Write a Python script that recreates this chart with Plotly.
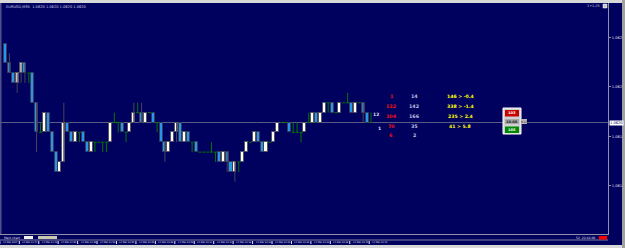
import plotly.graph_objects as go

# ---------------- data (renko-style bars, box = 1 pip) ----------------
opens = [1.06284, 1.06264, 1.06254, 1.06244, 1.06254, 1.06264, 1.06254, 1.06254, 1.06224, 1.06194,
         1.06194, 1.06214, 1.06194, 1.06174, 1.06154, 1.06164, 1.06204, 1.06194, 1.06184, 1.06194,
         1.06194, 1.06184, 1.06174, 1.06184, 1.06184, 1.06184, 1.06184, 1.06184, 1.06204, 1.06204,
         1.06204, 1.06194, 1.06194, 1.06204, 1.06214, 1.06214, 1.06204, 1.06214, 1.06214, 1.06204,
         1.06204, 1.06184, 1.06174, 1.06184, 1.06194, 1.06204, 1.06184, 1.06194, 1.06184, 1.06184,
         1.06174, 1.06174, 1.06174, 1.06174, 1.06174, 1.06174, 1.06164, 1.06174, 1.06164, 1.06154,
         1.06164, 1.06164, 1.06174, 1.06184, 1.06184, 1.06194, 1.06184, 1.06174, 1.06184, 1.06184,
         1.06194, 1.06204, 1.06204, 1.06204, 1.06194, 1.06194, 1.06194, 1.06194, 1.06204, 1.06204,
         1.06214, 1.06204, 1.06214, 1.06224, 1.06224, 1.06214, 1.06214, 1.06224, 1.06224, 1.06224,
         1.06214, 1.06224, 1.06224, 1.06214, 1.06204]
closes = [1.06264, 1.06254, 1.06244, 1.06254, 1.06264, 1.06254, 1.06254, 1.06224, 1.06194, 1.06194,
          1.06214, 1.06194, 1.06174, 1.06154, 1.06164, 1.06204, 1.06194, 1.06184, 1.06194, 1.06194,
          1.06184, 1.06174, 1.06184, 1.06184, 1.06184, 1.06184, 1.06184, 1.06204, 1.06204, 1.06204,
          1.06194, 1.06194, 1.06204, 1.06214, 1.06214, 1.06204, 1.06214, 1.06214, 1.06204, 1.06204,
          1.06184, 1.06174, 1.06184, 1.06194, 1.06204, 1.06184, 1.06194, 1.06184, 1.06184, 1.06174,
          1.06174, 1.06174, 1.06174, 1.06174, 1.06174, 1.06164, 1.06174, 1.06164, 1.06154, 1.06164,
          1.06164, 1.06174, 1.06184, 1.06184, 1.06194, 1.06184, 1.06174, 1.06184, 1.06184, 1.06194,
          1.06204, 1.06204, 1.06204, 1.06194, 1.06194, 1.06194, 1.06194, 1.06204, 1.06204, 1.06214,
          1.06204, 1.06214, 1.06224, 1.06224, 1.06214, 1.06214, 1.06224, 1.06224, 1.06224, 1.06214,
          1.06224, 1.06224, 1.06214, 1.06204, 1.06204]
highs = [1.06284, 1.06274, 1.06254, 1.06254, 1.06264, 1.06264, 1.06254, 1.06254, 1.06224, 1.06204,
         1.06214, 1.06214, 1.06194, 1.06174, 1.06164, 1.06224, 1.06204, 1.06194, 1.06194, 1.06194,
         1.06194, 1.06184, 1.06184, 1.06184, 1.06184, 1.06184, 1.06184, 1.06204, 1.06214, 1.06204,
         1.06204, 1.06194, 1.06204, 1.06224, 1.06224, 1.06224, 1.06214, 1.06214, 1.06214, 1.06204,
         1.06204, 1.06184, 1.06184, 1.06194, 1.06204, 1.06204, 1.06194, 1.06194, 1.06184, 1.06184,
         1.06174, 1.06174, 1.06174, 1.06184, 1.06174, 1.06174, 1.06174, 1.06174, 1.06164, 1.06164,
         1.06164, 1.06174, 1.06184, 1.06184, 1.06194, 1.06194, 1.06184, 1.06184, 1.06184, 1.06194,
         1.06204, 1.06204, 1.06204, 1.06204, 1.06204, 1.06204, 1.06194, 1.06204, 1.06214, 1.06214,
         1.06214, 1.06214, 1.06224, 1.06224, 1.06224, 1.06214, 1.06224, 1.06224, 1.06234, 1.06224,
         1.06224, 1.06224, 1.06224, 1.06214, 1.06214]
lows = [1.06264, 1.06254, 1.06244, 1.06234, 1.06244, 1.06244, 1.06244, 1.06224, 1.06174, 1.06194,
        1.06194, 1.06194, 1.06174, 1.06154, 1.06154, 1.06164, 1.06194, 1.06184, 1.06184, 1.06184,
        1.06184, 1.06174, 1.06174, 1.06174, 1.06184, 1.06174, 1.06174, 1.06184, 1.06204, 1.06194,
        1.06194, 1.06184, 1.06194, 1.06204, 1.06214, 1.06204, 1.06204, 1.06214, 1.06204, 1.06194,
        1.06184, 1.06164, 1.06174, 1.06184, 1.06184, 1.06184, 1.06184, 1.06184, 1.06174, 1.06174,
        1.06174, 1.06174, 1.06174, 1.06174, 1.06164, 1.06164, 1.06164, 1.06154, 1.06154, 1.06144,
        1.06154, 1.06164, 1.06174, 1.06184, 1.06184, 1.06184, 1.06174, 1.06174, 1.06184, 1.06184,
        1.06194, 1.06204, 1.06204, 1.06194, 1.06194, 1.06194, 1.06184, 1.06194, 1.06204, 1.06204,
        1.06204, 1.06204, 1.06214, 1.06214, 1.06214, 1.06214, 1.06214, 1.06224, 1.06224, 1.06214,
        1.06214, 1.06224, 1.06204, 1.06204, 1.06204]

current_price = 1.06204
price_ticks = [1.0629, 1.0624, 1.0619, 1.0614]
price_tick_labels = ["1.0629", "1.0624", "1.0619", "1.0614"]
price_box_label = "1.0620"

time_labels = ["14 Mar 2017", "14 Mar 21:44", "14 Mar 21:49", "14 Mar 21:50", "14 Mar 21:56",
               "14 Mar 21:59", "14 Mar 22:00", "14 Mar 22:05", "14 Mar 22:08", "14 Mar 22:09",
               "14 Mar 22:11", "14 Mar 22:14", "14 Mar 22:18", "14 Mar 22:21", "14 Mar 22:25",
               "14 Mar 22:29", "14 Mar 22:33", "14 Mar 22:36", "14 Mar 22:40", "14 Mar 22:43"]

stat_col1 = ["1", "132", "104", "70", "6"]
stat_col2 = ["14", "142", "166", "35", "2"]
stat_col3 = ["146 > -0.4", "338 > -1.4", "235 > 2.4", "41 > 5.8"]
bar_counter = ["12", "1"]
sell_price, lot_size, buy_price, spread_label = "103", "10.00", "105", "0.12"
title_text = "EURUSD,M30  1.0620 1.0620 1.0620 1.0620"

# ---------------- geometry ----------------
W, H = 625, 248
PL, PR, PT, PB = 0, 608, 3, 234          # plot area in pixels
BG = "#00005e"
idx = list(range(len(opens)))

def px(x):
    return (x - PL) / (PR - PL)

def py(y):
    return (PB - y) / (PB - PT)

fig = go.Figure()

# wicks (non-doji bars) and doji lines
wx, wy = [], []
dx, dy = [], []
half = 0.39
for i, o, c, h, l in zip(idx, opens, closes, highs, lows):
    if abs(o - c) > 1e-9:
        if h - l > abs(o - c) + 1e-9:
            wx += [i, i, None]
            wy += [l, h, None]
    else:
        if h - l > 1e-9:
            dx += [i, i, None]
            dy += [l, h, None]
        dx += [i - half, i + half, None]
        dy += [o, o, None]

fig.add_trace(go.Scatter(x=wx, y=wy, mode="lines", line=dict(color="#4a4458", width=1),
                         hoverinfo="skip", showlegend=False))

up = [(i, o, c) for i, o, c in zip(idx, opens, closes) if c - o > 1e-9]
dn = [(i, o, c) for i, o, c in zip(idx, opens, closes) if o - c > 1e-9]

fig.add_trace(go.Bar(x=[u[0] for u in up], y=[u[2] - u[1] for u in up], base=[u[1] for u in up],
                     width=0.78, marker=dict(color="#fffff0", line=dict(color="#55556a", width=1)),
                     showlegend=False, hoverinfo="skip"))
fig.add_trace(go.Bar(x=[d[0] for d in dn], y=[d[1] - d[2] for d in dn], base=[d[2] for d in dn],
                     width=0.78, marker=dict(color="#2496ee", line=dict(color="#3a3a58", width=1)),
                     showlegend=False, hoverinfo="skip"))

fig.add_trace(go.Scatter(x=dx, y=dy, mode="lines", line=dict(color="#007800", width=1),
                         hoverinfo="skip", showlegend=False))

# axis ranges derived from pixel layout
bar_px = 3.888
x0_px = 5.5
xr = [(PL - x0_px) / bar_px, (PR - x0_px) / bar_px]
pip_px = 9.87
cur_y = 122.5
yr = [current_price - (PB - cur_y) / pip_px * 0.0001, current_price + (cur_y - PT) / pip_px * 0.0001]

shapes = []
annotations = []

# current price line
shapes.append(dict(type="line", xref="paper", yref="y", x0=0, x1=1, y0=current_price, y1=current_price,
                   line=dict(color="#5a5a86", width=1), layer="below"))

# top toolbar strip
shapes.append(dict(type="rect", xref="paper", yref="paper", x0=px(0), x1=px(W), y0=py(PT), y1=py(0),
                   fillcolor="#d8d8d8", line=dict(width=0)))
# bottom rows
shapes.append(dict(type="line", xref="paper", yref="paper", x0=px(0), x1=px(608), y0=py(240), y1=py(240),
                   line=dict(color="#8080a0", width=1)))
shapes.append(dict(type="rect", xref="paper", yref="paper", x0=px(0), x1=px(W), y0=py(H), y1=py(245),
                   fillcolor="#d8d8d8", line=dict(width=0)))
# right window edge
shapes.append(dict(type="rect", xref="paper", yref="paper", x0=px(622), x1=px(W), y0=py(H), y1=py(0),
                   fillcolor="#a0a0a0", line=dict(width=0)))
# left window edge
shapes.append(dict(type="rect", xref="paper", yref="paper", x0=px(0), x1=px(1.5), y0=py(PB), y1=py(PT),
                   fillcolor="#50508a", line=dict(width=0)))

FONT = "DejaVu Sans"
# title text
annotations.append(dict(xref="paper", yref="paper", x=px(4), y=py(7), text=title_text, showarrow=False,
                        xanchor="left", yanchor="middle", font=dict(family=FONT, size=3.6, color="#d0d0e8")))
annotations.append(dict(xref="paper", yref="paper", x=px(602), y=py(6), text="1+1.25", showarrow=False,
                        xanchor="right", yanchor="middle", font=dict(family=FONT, size=3.4, color="#d0d0e8")))
shapes.append(dict(type="rect", xref="paper", yref="paper", x0=px(603), x1=px(607), y0=py(8), y1=py(4),
                   fillcolor="#c8c8c8", line=dict(color="#ffffff", width=0.5)))

# price box at current price
annotations.append(dict(xref="paper", yref="y", x=px(609), y=current_price, text=price_box_label,
                        showarrow=False, xanchor="left", yanchor="middle", bgcolor="#ffffff",
                        borderpad=0, font=dict(family=FONT, size=3.6, color="#000060")))

# time labels with separators
step = 5
first = -1.45
for k, lab in enumerate(time_labels):
    xv = first + step * k
    shapes.append(dict(type="line", xref="x", yref="paper", x0=xv, x1=xv, y0=py(244), y1=py(241),
                       line=dict(color="#e0e0f0", width=1)))
    annotations.append(dict(xref="x", yref="paper", x=xv + 0.25, y=py(242.5), text=lab, showarrow=False,
                            xanchor="left", yanchor="middle", font=dict(family=FONT, size=2.3, color="#e0e0f0")))
# "Main chart" row
annotations.append(dict(xref="paper", yref="paper", x=px(2), y=py(237.5), text="Main chart", showarrow=False,
                        xanchor="left", yanchor="middle", font=dict(family=FONT, size=3.0, color="#e0e0f0")))
shapes.append(dict(type="rect", xref="paper", yref="paper", x0=px(24), x1=px(33), y0=py(239), y1=py(236),
                   fillcolor="#f0f0f0", line=dict(width=0)))
shapes.append(dict(type="rect", xref="paper", yref="paper", x0=px(38), x1=px(57), y0=py(239), y1=py(236),
                   fillcolor="#c8c8b0", line=dict(width=0)))
annotations.append(dict(xref="paper", yref="paper", x=px(597), y=py(237.5), text="52  22:44:00", showarrow=False,
                        xanchor="right", yanchor="middle", font=dict(family=FONT, size=3.0, color="#e0e0f0")))
shapes.append(dict(type="rect", xref="paper", yref="paper", x0=px(599), x1=px(607), y0=py(239.5), y1=py(236),
                   fillcolor="#ff0000", line=dict(width=0)))

# stats table
rows_y = [96, 106, 116, 126, 136]
for yv, t in zip(rows_y, stat_col1):
    annotations.append(dict(xref="paper", yref="paper", x=px(391), y=py(yv), text="<b>%s</b>" % t, showarrow=False,
                            xanchor="center", yanchor="middle", font=dict(family=FONT, size=4.8, color="#ff1010")))
for yv, t in zip(rows_y, stat_col2):
    annotations.append(dict(xref="paper", yref="paper", x=px(414), y=py(yv), text="<b>%s</b>" % t, showarrow=False,
                            xanchor="center", yanchor="middle", font=dict(family=FONT, size=4.8, color="#c0c0e0")))
for yv, t in zip(rows_y, stat_col3):
    annotations.append(dict(xref="paper", yref="paper", x=px(460), y=py(yv), text="<b>%s</b>" % t, showarrow=False,
                            xanchor="center", yanchor="middle", font=dict(family=FONT, size=4.6, color="#ffff00")))
annotations.append(dict(xref="paper", yref="paper", x=px(375.5), y=py(114), text="<b>%s</b>" % bar_counter[0],
                        showarrow=False, xanchor="center", yanchor="middle",
                        font=dict(family=FONT, size=4.5, color="#e0e0f0")))
annotations.append(dict(xref="paper", yref="paper", x=px(379), y=py(128), text="<b>%s</b>" % bar_counter[1],
                        showarrow=False, xanchor="center", yanchor="middle",
                        font=dict(family=FONT, size=4.5, color="#e0e0f0")))

# trade panel
shapes.append(dict(type="rect", xref="paper", yref="paper", x0=px(503), x1=px(521), y0=py(134), y1=py(108),
                   fillcolor="#d0d0d0", line=dict(color="#ffffff", width=1)))
shapes.append(dict(type="rect", xref="paper", yref="paper", x0=px(505), x1=px(519), y0=py(116.5), y1=py(110),
                   fillcolor="#c80000", line=dict(width=0)))
shapes.append(dict(type="rect", xref="paper", yref="paper", x0=px(505), x1=px(519), y0=py(124), y1=py(119),
                   fillcolor="#a8a8a8", line=dict(width=0)))
shapes.append(dict(type="rect", xref="paper", yref="paper", x0=px(521), x1=px(527), y0=py(124), y1=py(119),
                   fillcolor="#b8b8b8", line=dict(width=0)))
shapes.append(dict(type="rect", xref="paper", yref="paper", x0=px(505), x1=px(519), y0=py(133), y1=py(126.5),
                   fillcolor="#008800", line=dict(width=0)))
for yv, t, col in [(113.3, sell_price, "#ffffff"), (121.5, lot_size, "#202020"), (129.8, buy_price, "#ffffff")]:
    annotations.append(dict(xref="paper", yref="paper", x=px(512), y=py(yv), text="<b>%s</b>" % t, showarrow=False,
                            xanchor="center", yanchor="middle", font=dict(family=FONT, size=3.6, color=col)))
annotations.append(dict(xref="paper", yref="paper", x=px(524), y=py(121.5), text=spread_label, showarrow=False,
                        xanchor="center", yanchor="middle", font=dict(family=FONT, size=3.0, color="#202020")))

fig.update_layout(
    width=W, height=H,
    margin=dict(l=PL, r=W - PR, t=PT, b=H - PB),
    paper_bgcolor=BG, plot_bgcolor=BG,
    barmode="overlay", bargap=0,
    showlegend=False,
    shapes=shapes, annotations=annotations,
    xaxis=dict(range=xr, showgrid=False, zeroline=False, showticklabels=False, showline=True,
               linecolor="#9090a8", linewidth=1, fixedrange=True),
    yaxis=dict(range=yr, side="right", showgrid=False, zeroline=False, showline=True,
               linecolor="#9090a8", linewidth=1, tickmode="array", tickvals=price_ticks,
               ticktext=price_tick_labels, ticks="outside", ticklen=2, tickcolor="#9090a8",
               tickfont=dict(family=FONT, size=3.6, color="#e0e0f0"), automargin=False, fixedrange=True),
)

fig.write_html("out.html")
